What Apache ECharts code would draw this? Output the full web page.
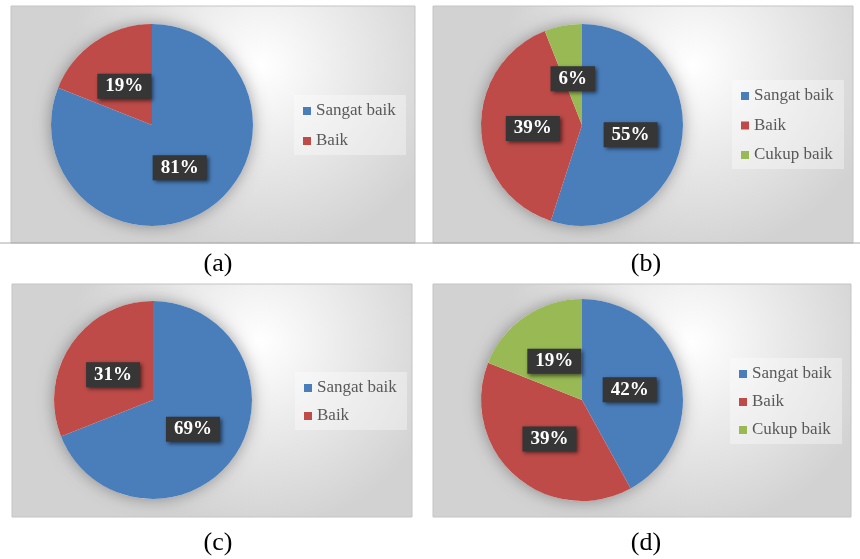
<!DOCTYPE html>
<html>
<head>
<meta charset="utf-8">
<script src="https://cdn.jsdelivr.net/npm/echarts@6/dist/echarts.min.js"></script>
<style>
  html, body { margin: 0; padding: 0; background: #fff; }
  #chart { width: 860px; height: 559px; }
</style>
</head>
<body>
<div id="chart"></div>
<script>
// data
const categories = ["Sangat baik", "Baik", "Cukup baik"];
const valuesA = [81, 19];
const valuesB = [55, 39, 6];
const valuesC = [69, 31];
const valuesD = [42, 39, 19];
const captions = ["(a)", "(b)", "(c)", "(d)"];

const colors = ["#4a7ebb", "#be4b48", "#98b954"];

// panel layout: box, pie center/radius, legend box, caption position
const panels = [
  { values: valuesA, box: [11, 6, 404, 237], center: [152, 125], r: 101, legend: [294, 95], gap: 12, cap: [218, 264] },
  { values: valuesB, box: [433, 6, 420, 237], center: [582, 125], r: 101, legend: [732, 80], gap: 11.5, cap: [646, 264] },
  { values: valuesC, box: [12, 284, 400, 233], center: [153, 400], r: 99, legend: [295, 372], gap: 10, cap: [218, 543] },
  { values: valuesD, box: [433, 284, 418, 233], center: [582, 400], r: 101, legend: [730, 358], gap: 10, cap: [646, 543] }
];

const chart = echarts.init(document.getElementById("chart"), null, { renderer: "canvas" });

const graphic = [];
const series = [];
const legends = [];

panels.forEach((p, i) => {
  const [bx, by, bw, bh] = p.box;
  graphic.push({
    type: "rect",
    z: -10,
    shape: { x: bx, y: by, width: bw, height: bh },
    style: {
      fill: new echarts.graphic.RadialGradient(0.62, 0.25, 0.8, [
        { offset: 0, color: "#ffffff" },
        { offset: 1, color: "#d2d2d2" }
      ]),
      stroke: "#c4c4c4",
      lineWidth: 1
    }
  });
  graphic.push({
    type: "text",
    x: p.cap[0],
    y: p.cap[1],
    style: {
      text: captions[i],
      font: "26px 'Liberation Serif'",
      fill: "#000",
      align: "center",
      verticalAlign: "middle"
    }
  });

  const names = categories.slice(0, p.values.length);
  const c = p.center;

  // shadow under the pie
  series.push({
    type: "pie",
    silent: true,
    center: c,
    radius: p.r,
    z: 1,
    label: { show: false },
    labelLine: { show: false },
    itemStyle: {
      color: "#ffffff",
      shadowBlur: 16,
      shadowColor: "rgba(0,0,0,0.35)"
    },
    data: [{ value: 1, name: "shadow" + i }]
  });

  series.push({
    type: "pie",
    center: c,
    radius: p.r,
    z: 2,
    startAngle: 90,
    clockwise: true,
    silent: true,
    itemStyle: { borderWidth: 0 },
    label: {
      position: "inside",
      formatter: "{c}%",
      color: "#fff",
      fontFamily: "Liberation Serif",
      fontWeight: "bold",
      fontSize: 19,
      backgroundColor: "#363636",
      padding: [4, 8, 2, 8],
      shadowBlur: 4,
      shadowColor: "rgba(0,0,0,0.55)",
      shadowOffsetX: 2,
      shadowOffsetY: 2
    },
    // pull the labels a little toward the centre, like the original
    labelLayout: function (params) {
      const r = params.labelRect;
      const lx = r.x + r.width / 2;
      const ly = r.y + r.height / 2;
      return { x: c[0] + (lx - c[0]) * 0.92, y: c[1] + (ly - c[1]) * 0.92 + 2 };
    },
    labelLine: { show: false },
    data: p.values.map((v, k) => ({
      value: v,
      name: names[k],
      itemStyle: { color: colors[k] }
    }))
  });

  legends.push({
    data: names,
    orient: "vertical",
    left: p.legend[0],
    top: p.legend[1],
    selectedMode: false,
    backgroundColor: "rgba(255,255,255,0.35)",
    padding: [7, 8, 5, 9],
    itemGap: p.gap,
    itemWidth: 8,
    itemHeight: 8,
    icon: "rect",
    textStyle: {
      fontFamily: "Liberation Serif",
      fontSize: 17,
      lineHeight: 18,
      color: "#595959",
      width: 82
    }
  });
});

graphic.push({
  type: "line",
  z: -5,
  shape: { x1: 0, y1: 243, x2: 860, y2: 243 },
  style: { stroke: "#a8a8a8", lineWidth: 1 }
});

chart.setOption({
  animation: false,
  backgroundColor: "#ffffff",
  legend: legends,
  graphic: graphic,
  series: series
});
</script>
</body>
</html>
